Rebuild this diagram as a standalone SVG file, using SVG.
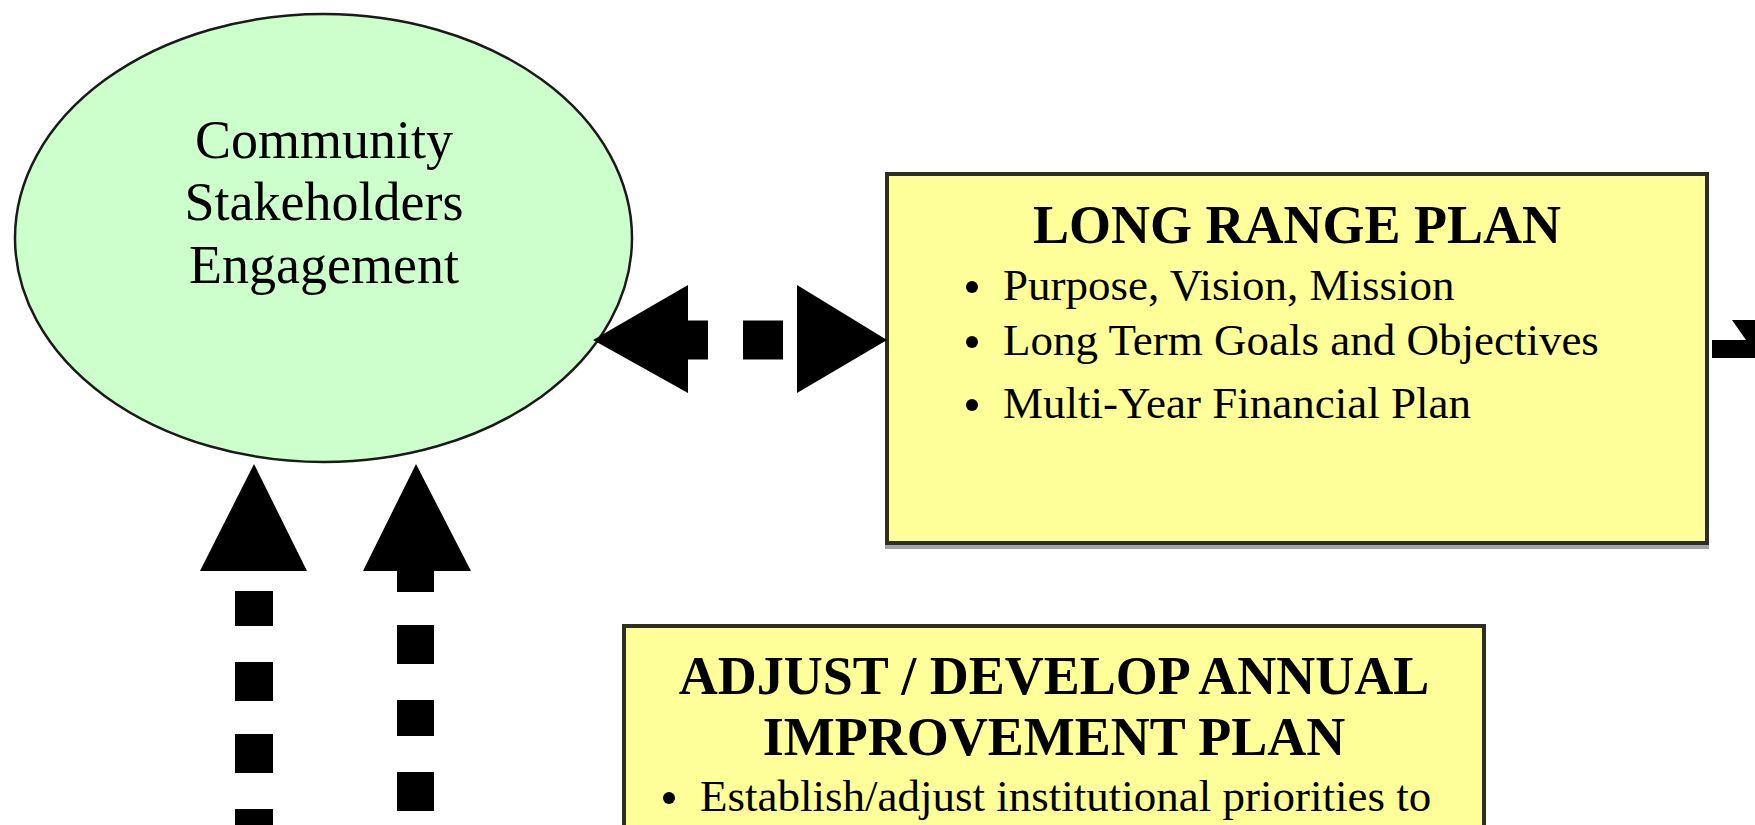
<svg xmlns="http://www.w3.org/2000/svg" width="1755" height="825" viewBox="0 0 1755 825">
<style>
.box{fill:#FFFF99;stroke:#2e2e22;stroke-width:4}
.shadow{fill:#a3a3a3}
.ell{fill:#CCFFCC;stroke:#1a1a1a;stroke-width:2.5}
.t{font-family:"Liberation Serif","Times New Roman",serif;fill:#000}
.title{font-size:54px;font-weight:bold;text-anchor:middle}
.ellt{font-size:54px;text-anchor:middle}
.item{font-size:45px}
.dot{fill:#000}
.conn{fill:#000}
</style>
<rect width="1755" height="825" fill="#fff"/>
<g id="community-stakeholders">
<ellipse class="ell" cx="323.5" cy="238" rx="308.5" ry="224"/>
<text class="t ellt" x="324" y="158">Community</text>
<text class="t ellt" x="324" y="220">Stakeholders</text>
<text class="t ellt" x="324" y="283">Engagement</text>
</g>
<g id="long-range-plan">
<rect class="shadow" x="885" y="545" width="824" height="4"/>
<rect class="box" x="887" y="174" width="820" height="369"/>
<text class="t title" x="1297" y="243">LONG RANGE PLAN</text>
<circle class="dot" cx="972" cy="287" r="6"/>
<text class="t item" x="1003" y="300">Purpose, Vision, Mission</text>
<circle class="dot" cx="972" cy="342" r="6"/>
<text class="t item" x="1003" y="355">Long Term Goals and Objectives</text>
<circle class="dot" cx="972" cy="405" r="6"/>
<text class="t item" x="1003" y="418">Multi-Year Financial Plan</text>
</g>
<g id="annual-improvement-plan">
<rect class="box" x="624" y="626" width="860" height="230"/>
<text class="t title" x="1054" y="694">ADJUST / DEVELOP ANNUAL</text>
<text class="t title" x="1054" y="755">IMPROVEMENT PLAN</text>
<circle class="dot" cx="669" cy="798" r="6"/>
<text class="t item" x="700" y="811">Establish/adjust institutional priorities to</text>
</g>
<g id="connectors">
<polygon class="conn" points="593,340 688,285 688,320.5 708,320.5 708,359.5 688,359.5 688,393"/>
<rect class="conn" x="743" y="320.5" width="40" height="39"/>
<polygon class="conn" points="887,340 797,285 797,393"/>
<polygon class="conn" points="1712,340 1746,340 1732,320 1755,320 1755,358 1712,358"/>
<polygon class="conn" points="254,464 307,571 200,571"/>
<rect class="conn" x="235" y="591" width="38" height="35"/>
<rect class="conn" x="235" y="662" width="38" height="39"/>
<rect class="conn" x="235" y="734" width="38" height="39"/>
<rect class="conn" x="235" y="809" width="38" height="20"/>
<polygon class="conn" points="416,464 471,571 434,571 434,592 397,592 397,571 363,571"/>
<rect class="conn" x="397" y="625" width="37" height="39"/>
<rect class="conn" x="397" y="700" width="37" height="36"/>
<rect class="conn" x="397" y="772" width="37" height="39"/>
</g>
</svg>
